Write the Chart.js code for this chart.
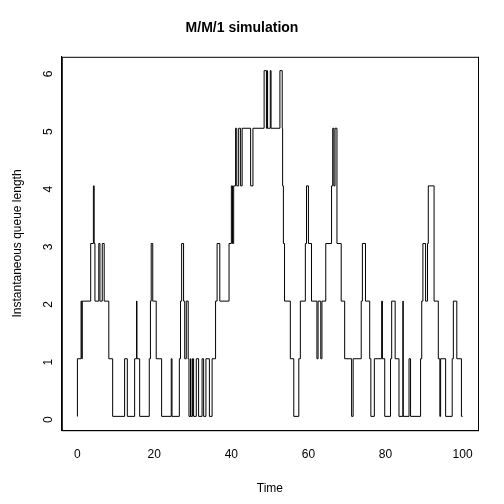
<!DOCTYPE html>
<html>
<head>
<script src="https://cdn.jsdelivr.net/npm/chart.js@4"></script>
<style>
  body { margin: 0; background: #fff; }
  #wrap { width: 504px; height: 504px; }
</style>
</head>
<body>
<div id="wrap"><canvas id="c" width="504" height="504"></canvas></div>
<script>
// event times and queue length from that time onwards
const times = [0, 0.05, 1.0, 1.2, 1.3, 3.5, 4.2, 4.4, 4.6, 5.6, 5.9, 6.5, 7.0, 8.2, 9.2, 12.3, 13.0, 14.9, 15.4, 15.5, 16.2,
  18.7, 19.0, 19.2, 19.6, 20.5, 21.9, 24.4, 24.6, 26.5, 26.8, 27.1, 27.6, 27.9, 28.3, 28.8, 29.0, 29.4, 29.5, 29.9,
  30.2, 30.9, 31.5, 32.4, 32.8, 33.4, 34.3, 35.0, 35.9, 36.3, 37.0, 39.4, 40.0, 40.3, 40.6, 41.1, 41.4, 41.9, 42.4, 42.8,
  45.0, 45.6, 48.5, 49.1, 49.3, 49.4, 50.1, 50.3, 52.6, 53.2, 53.3, 53.5, 53.8, 55.3, 56.2, 57.5, 57.9, 59.2, 59.5, 60.0,
  60.8, 62.2, 62.5, 63.2, 63.5, 64.5, 66.0, 66.3, 66.6, 66.9, 67.4, 68.5, 69.4, 71.2, 71.6, 73.7, 74.0, 74.8, 75.9, 76.2,
  77.1, 79.0, 79.2, 79.8, 81.3, 81.6, 82.5, 83.5, 84.5, 84.6, 86.1, 86.5, 89.1, 89.4, 89.7, 90.4, 90.9, 91.1, 92.6, 93.7,
  94.1, 94.3, 95.6, 97.3, 97.6, 98.5, 99.7, 100];
const queue = [0, 1, 2, 1, 2, 3, 4, 3, 2, 3, 2, 3, 2, 1, 0, 1, 0, 1, 2, 1, 0,
  1, 2, 3, 2, 1, 0, 1, 0, 1, 2, 3, 2, 1, 2, 1, 0, 1, 0, 1,
  0, 1, 0, 1, 0, 1, 0, 1, 2, 3, 2, 3, 4, 3, 4, 5, 4, 5, 4, 5,
  4, 5, 6, 5, 6, 5, 6, 5, 6, 5, 4, 3, 2, 1, 0, 1, 2, 3, 4, 3,
  2, 1, 2, 1, 2, 3, 4, 5, 4, 5, 3, 2, 1, 0, 1, 2, 3, 2, 1, 0,
  1, 2, 1, 0, 1, 2, 1, 0, 2, 0, 1, 0, 1, 2, 3, 2, 3, 4, 2, 1,
  0, 1, 0, 1, 2, 1, 0, 0];
const xTicks = [0, 20, 40, 60, 80, 100];
const yTicks = [0, 1, 2, 3, 4, 5, 6];

const font = { family: 'Liberation Sans, Arial, sans-serif', size: 12 };
const points = times.map(function(t, i) { return { x: t, y: queue[i] }; });

new Chart(document.getElementById('c').getContext('2d'), {
  type: 'line',
  data: { datasets: [{ data: points, stepped: 'before', borderColor: '#000', borderWidth: 1, pointRadius: 0, fill: false }] },
  options: {
    responsive: false, animation: false,
    layout: { padding: { top: 10, right: 26, bottom: 8, left: 6 } },
    plugins: {
      legend: { display: false }, tooltip: { enabled: false },
      title: { display: true, text: 'M/M/1 simulation', color: '#000',
        font: { family: font.family, size: 14, weight: 'bold' }, padding: { top: 10, bottom: 20 } }
    },
    scales: {
      x: { type: 'linear', min: -4, max: 104, border: { color: '#000' },
        grid: { display: false, drawTicks: true, tickLength: 7, tickColor: '#000' },
        afterBuildTicks: function(a) { a.ticks = xTicks.map(function(v) { return { value: v }; }); },
        ticks: { color: '#000', font: font, padding: 10 },
        title: { display: true, text: 'Time', color: '#000', font: font, padding: { top: 10, bottom: 0 } } },
      y: { min: -0.24, max: 6.24, border: { color: '#000' },
        grid: { display: false, drawTicks: true, tickLength: 7, tickColor: '#000' },
        afterBuildTicks: function(a) { a.ticks = yTicks.map(function(v) { return { value: v }; }); },
        ticks: { color: '#000', font: font, padding: 6, maxRotation: 90, minRotation: 90 },
        title: { display: true, text: 'Instantaneous queue length', color: '#000', font: font } }
    }
  },
  plugins: [{
    id: 'box',
    afterDraw: function(chart) {
      const a = chart.chartArea, ctx = chart.ctx;
      ctx.save(); ctx.strokeStyle = '#000'; ctx.lineWidth = 1;
      ctx.strokeRect(a.left + 0.5, a.top + 0.5, a.right - a.left, a.bottom - a.top);
      ctx.restore();
    }
  }]
});
</script>
</body>
</html>
